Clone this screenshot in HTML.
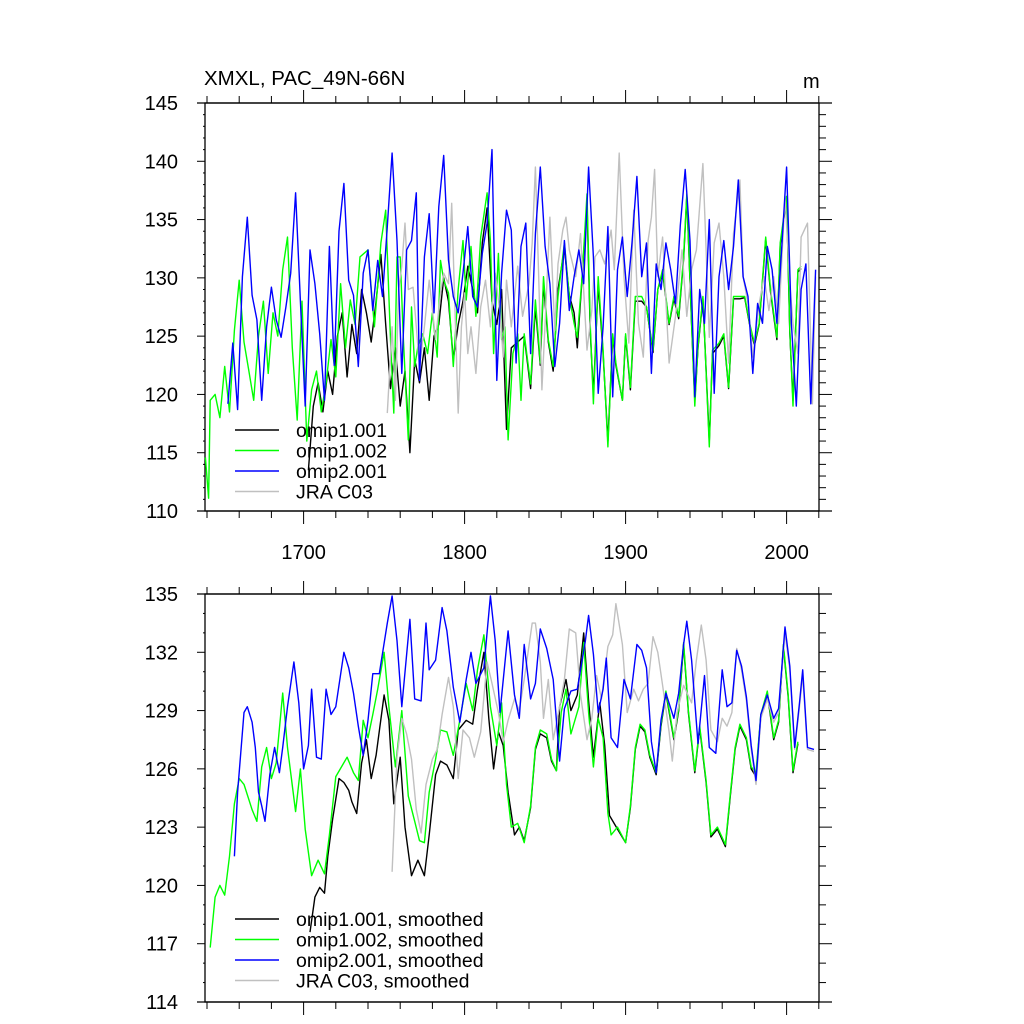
<!DOCTYPE html>
<html><head><meta charset="utf-8"><style>
html,body{margin:0;padding:0;background:#fff;}
svg{display:block;font-family:"Liberation Sans",sans-serif;}
</style></head><body>
<svg id="chart" width="1024" height="1024" viewBox="0 0 1024 1024" xmlns="http://www.w3.org/2000/svg">
<text x="204" y="85" font-size="20.5">XMXL, PAC_49N-66N</text>
<text x="803" y="88" font-size="20">m</text>
<g id="top-panel"></g>
<g id="bottom-panel"></g>
</svg>
<script>
// ---------- data: top panel (raw) ----------
const blueYears=[1653,1656,1659,1662,1665,1668,1671,1674,1677,1680,1683,1686,1689,1692,1695,1698,1701,1704,1707,1710,1713,1716,1719,1722,1725,1728,1731,1734,1737,1740,1743,1746,1749,1752,1755,1758,1761,1764,1767,1770,1772,1775,1778,1781,1784,1787,1790,1793,1796,1799,1802,1805,1808,1811,1814,1817,1820,1823,1826,1829,1832,1835,1838,1841,1844,1847,1850,1853,1856,1859,1862,1865,1868,1871,1874,1877,1880,1883,1886,1889,1892,1895,1898,1901,1904,1907,1910,1913,1916,1919,1922,1925,1928,1931,1934,1937,1940,1943,1946,1949,1952,1955,1958,1961,1964,1967,1970,1973,1976,1979,1982,1985,1988,1991,1994,1997,2000,2003,2006,2009,2012,2015,2018];
const blueVals=[119.2,124.4,118.7,130.1,135.2,128.5,126.4,119.5,125.8,129.2,126.4,124.9,127.5,130.4,137.3,128,119.0,132.4,129.5,125.2,119.5,132.7,122.5,134,138.1,129.8,128.5,122.4,130.4,132.4,127.2,131.5,128.4,134.4,140.7,133.2,121.8,132.4,133.2,137.3,121.2,131.8,135.5,127,136.1,140.5,131.5,128.4,127,130.4,134.4,128.4,127.5,132.1,134.7,141,121.2,130.4,135.8,134.1,122.7,132.7,134.7,123.5,133.8,139.5,132.7,129.5,122.4,126.1,133.2,127.2,130.1,132.4,129.5,139.5,131.8,120.1,125.8,134.4,119.8,130.7,133.5,128.4,133,138.7,130.1,133,121.8,131.2,129,133,130.7,127.8,134.5,139.3,133.2,119.8,129,126.1,135,120.1,130.1,133.2,129,132.7,138.4,130.1,128.4,121.8,127.8,126.1,132.7,130.7,126.1,132.7,139.5,126.1,119,129,131.2,119.2,130.7];
const greenYears=[1639,1641,1642,1645,1648,1651,1654,1657,1660,1663,1666,1669,1672,1675,1678,1681,1684,1687,1690,1693,1696,1699,1702,1705,1708,1711,1714,1717,1720,1723,1726,1729,1732,1735,1740,1744,1748,1751,1754,1756,1758,1760,1762,1765,1767,1769,1771,1774,1777,1780,1783,1785,1787,1790,1793,1796,1799,1801,1804,1807,1810,1814,1816,1818,1821,1823,1825,1827,1830,1833,1835,1837,1841,1844,1847,1849,1852,1855,1858,1862,1865,1868,1870,1873,1876,1878,1880,1883,1886,1889,1892,1894,1898,1900,1903,1906,1910,1913,1917,1920,1923,1927,1930,1933,1936,1938,1941,1943,1945,1948,1952,1954,1958,1961,1964,1967,1971,1974,1977,1980,1983,1987,1990,1994,1996,2000,2002,2004,2007,2009];
const greenVals=[114.6,111.1,119.5,120,118,122.4,118.5,125.5,129.8,124.5,122,119.5,125,128,121.8,127,125,130.7,133.5,124,117.8,128,116,120.4,122,118.5,121,124.7,121.5,129.5,124,128.1,126,131.8,132.4,125.8,133,135.8,124.7,118.4,131.8,131.8,124.7,116.1,127.5,122.4,124.1,125.2,123.5,127,123.2,131.5,129.8,128.7,122.4,129,133.2,128.1,132.7,126.7,133.5,137.3,133.2,123.5,132.1,124.7,125.8,116.1,123.5,125.2,119.5,125.2,120.9,128.1,122.7,130.1,124.7,122.4,128.4,133,128.4,126.1,124.9,130.1,137.2,126.1,119.2,130.1,123.8,115.5,125.2,122.7,119.5,125.2,120.6,128.4,128.4,127.5,123.8,129,130.7,126.1,128.4,126.7,131.8,137.2,126.1,119,124.1,128.4,115.5,123.8,124.4,125.2,120.6,128.4,128.4,128.4,126.1,124.4,126.1,133.5,129,124.9,133,137,125.5,119,130.7,131];
const blackYears=[1703,1706,1709,1712,1715,1718,1721,1724,1727,1730,1733,1736,1739,1742,1745,1748,1751,1754,1757,1760,1763,1766,1769,1772,1775,1778,1781,1784,1787,1790,1793,1796,1799,1802,1805,1808,1811,1814,1817,1820,1823,1826,1829,1833,1837,1841,1844,1847,1849,1852,1855,1858,1862,1865,1868,1870,1873,1876,1878,1880,1883,1886,1889,1892,1894,1898,1900,1903,1906,1910,1913,1917,1920,1923,1927,1930,1933,1936,1938,1941,1943,1945,1948,1952,1954,1958,1961,1964,1967,1971,1974,1977,1980,1983,1987,1990,1994,1996,2000,2002,2004,2007,2009];
const blackVals=[113.5,119,121,118.5,122,120,125,127,121.5,126,123.5,129,127,124.5,128,132,126,120.5,124,119,122,115,123,121,124,119.5,125,126,130,128,123,126,128,131,129,127,133,136,128,126,129,117,124,124.5,125,120.5,127.5,122.5,129.5,124.5,122,129,132.5,128.5,127,124,130,136.5,125.5,120,129.5,123.5,116,125,122.5,119.5,125,120.4,128,128,127.5,123.6,129,130.5,126,128.2,126.5,131.6,137,126,119.5,124,128.2,116,123.5,124.2,125,120.5,128.2,128.2,128.3,126,124.2,126,133.3,128.8,124.7,132.8,136.8,125.3,119.5,130.5,130.8];
const greyYears=[1752,1755,1757,1759,1761,1763,1765,1768,1770,1772,1775,1778,1782,1785,1787,1790,1792,1794,1796,1798,1800,1802,1804,1807,1810,1813,1816,1819,1822,1824,1826,1829,1831,1833,1836,1840,1842,1844,1846,1848,1850,1853,1856,1858,1861,1863,1865,1869,1872,1876,1879,1881,1884,1887,1891,1893,1896,1899,1902,1905,1908,1911,1914,1916,1918,1920,1923,1927,1931,1935,1938,1941,1944,1948,1950,1952,1955,1958,1961,1964,1967,1971,1973,1976,1979,1983,1986,1989,1992,1995,1999,2002,2004,2007,2009,2013,2016,2018];
const greyVals=[118.4,125.8,119.5,129,131,134.7,129,129.2,125.8,122.4,125.8,129.8,124.7,128.7,130.4,129.5,136.4,127.5,118.4,125.8,128.7,123.5,125.8,121.8,127.5,129.8,125.8,130.4,127,123.2,129.8,125.8,128.4,131,126.7,129.5,133,139.5,130.1,120.4,126.1,135.2,125.5,131.2,134.1,135.2,132.4,130.1,133.8,123.8,127.2,131.8,132.4,131.2,134.1,130.7,140.7,130.1,124.4,135.8,126.1,123.2,133.2,135.2,139.3,130.1,133.5,122.7,126.7,132.4,126.7,130.7,132.4,139.8,132.4,124.9,133,134.7,130.1,122.7,133.8,138.4,130.1,127.8,123.2,127.8,130.1,127.2,130.1,126.1,137,129.5,126.1,123.5,133.5,134.7,119.2,130.1];

// ---------- data: bottom panel (smoothed) ----------
const sGreenYears=[1642,1645,1648,1651,1654,1657,1660,1663,1668,1671,1674,1677,1680,1683,1687,1690,1695,1698,1701,1705,1709,1713,1716,1720,1727,1731,1734,1737,1740,1743,1746,1750,1753,1757,1761,1765,1769,1772,1775,1778,1782,1785,1789,1793,1797,1801,1805,1808,1812,1816,1820,1823,1826,1829,1833,1837,1841,1844,1847,1851,1854,1857,1860,1863,1866,1871,1874,1877,1880,1883,1886,1889,1891,1895,1900,1903,1906,1909,1912,1915,1919,1922,1925,1930,1933,1936,1939,1943,1946,1950,1953,1957,1962,1965,1968,1971,1975,1978,1981,1984,1988,1992,1995,1998,2001,2004,2007];
const sGreenVals=[116.8,119.4,120.0,119.5,121.5,124.2,125.5,125.2,123.9,123.3,126.1,127.1,125.5,126.3,129.9,127.1,123.8,126.0,122.9,120.5,121.3,120.6,122.6,125.6,126.6,125.8,125.4,128.5,127.6,128.8,130.1,132.0,129.2,126.1,129.0,124.6,123.3,122.3,122.2,124.8,126.5,128.0,127.9,126.7,128.5,130.4,129.0,131.1,132.9,129.2,127.2,129.4,125.2,123.0,123.2,122.2,124.1,127.1,128.0,127.8,126.5,125.9,128.9,130.1,127.8,129.2,132.5,128.9,126.1,128.6,127.6,123.7,122.6,123.0,122.2,124.1,127.1,128.3,128.0,126.7,125.8,128.3,130.0,127.6,129.1,132.5,129.0,125.9,128.2,125.4,122.6,123.0,122.1,124.7,127.1,128.3,127.6,126.1,125.8,128.8,130.0,127.6,128.5,132.4,129.8,125.9,127.4];
const sBlackYears=[1704,1707,1710,1713,1715,1718,1722,1725,1728,1730,1733,1736,1739,1742,1745,1750,1753,1756,1760,1763,1767,1771,1775,1778,1782,1785,1789,1793,1796,1801,1805,1808,1812,1815,1818,1821,1824,1827,1831,1834,1837,1841,1844,1847,1851,1854,1857,1859,1863,1866,1870,1874,1877,1880,1884,1887,1890,1895,1900,1903,1906,1909,1912,1915,1919,1922,1925,1930,1933,1936,1939,1943,1946,1950,1953,1957,1962,1965,1968,1971,1975,1978,1981,1984,1988,1992,1995,1998,2001,2004,2007];
const sBlackVals=[117.6,119.4,119.9,119.6,121.5,123.4,125.5,125.3,124.9,124.3,123.7,126.3,127.5,125.5,126.7,129.8,128.5,124.2,126.6,123.0,120.5,121.3,120.5,122.6,125.7,126.4,126.2,125.5,128.0,128.5,128.3,130.1,132.0,128.6,126.0,127.9,127.2,124.8,122.6,123.0,122.3,124.0,127.0,127.8,127.6,126.4,125.9,129.2,130.6,129.0,129.8,133.0,129.5,126.6,129.4,127.2,123.6,122.9,122.2,124.0,127.0,128.2,127.9,126.6,125.7,128.2,129.9,127.5,129.0,132.4,128.9,125.8,128.1,125.3,122.5,122.9,122.0,124.6,127.0,128.2,127.5,126.0,125.6,128.7,129.9,127.5,128.4,132.3,129.7,125.8,127.3];
const sBlueYears=[1657,1659,1663,1665,1668,1670,1672,1674,1676,1679,1682,1685,1687,1690,1694,1697,1700,1703,1705,1708,1711,1714,1717,1720,1725,1728,1731,1734,1737,1740,1743,1747,1752,1755,1758,1761,1766,1769,1773,1776,1778,1782,1786,1789,1793,1797,1801,1804,1807,1812,1816,1819,1822,1827,1831,1834,1837,1841,1844,1847,1851,1855,1859,1862,1866,1870,1875,1877,1880,1883,1886,1888,1891,1895,1899,1903,1907,1910,1913,1916,1919,1922,1925,1930,1933,1936,1938,1941,1945,1949,1952,1956,1960,1963,1966,1969,1972,1975,1978,1981,1984,1988,1992,1995,1999,2002,2005,2008,2010,2013,2017];
const sBlueVals=[121.5,124.8,128.9,129.2,128.4,127.1,124.8,124.1,123.3,125.7,127.1,125.8,127.1,129.2,131.5,129.4,126.0,127.2,130.1,126.6,126.5,130.1,128.8,129.2,132.0,131.2,129.9,128.2,126.7,128.5,130.9,130.9,133.5,134.9,132.6,129.2,133.7,129.6,129.5,133.5,131.1,131.6,134.3,133.1,130.2,128.4,130.6,132.0,130.4,131.2,134.9,132.6,128.9,133.1,129.8,128.6,132.4,129.6,130.4,133.2,132.2,130.6,126.4,129.1,130.0,130.1,132.6,133.9,131.9,128.9,130.1,131.7,127.6,127.1,130.6,129.6,132.4,132.1,131.2,127.4,125.8,128.5,129.9,128.6,129.9,132.4,133.6,131.6,127.3,130.8,127.1,126.8,131.1,129.2,129.4,132.1,131.3,129.7,127.2,125.4,128.8,129.8,128.6,129.1,133.3,131.3,127.1,129.4,131.1,127.1,127.0];
const sGreyYears=[1755,1758,1761,1764,1767,1770,1773,1776,1780,1783,1786,1790,1793,1796,1799,1803,1806,1810,1814,1817,1821,1824,1827,1831,1834,1837,1842,1844,1847,1849,1852,1855,1859,1862,1865,1869,1872,1876,1879,1882,1885,1889,1892,1894,1898,1901,1905,1908,1911,1914,1917,1920,1923,1927,1929,1932,1936,1941,1944,1947,1950,1953,1957,1960,1963,1966,1969,1972,1975,1978,1981,1984,1988,1992,1995,1999,2002,2005,2008,2010,2013,2017];
const sGreyVals=[120.7,126.6,128.6,127.8,126.5,123.9,122.7,125.2,126.5,127.0,128.8,130.7,129.2,125.5,128.0,127.6,126.6,127.9,131.5,130.4,128.9,127.4,128.5,129.6,129.0,130.6,133.5,133.5,131.5,128.6,130.6,127.5,129.2,130.6,133.2,133.0,129.8,127.5,128.6,130.8,129.6,132.3,132.9,134.5,132.4,128.9,130.1,129.5,130.1,130.4,132.8,132.0,130.3,127.9,126.4,128.9,130.3,129.4,131.6,133.4,131.6,128.0,127.4,128.6,128.2,128.9,132.2,131.1,129.5,127.0,125.2,128.6,129.6,128.4,128.9,133.0,131.1,127.0,129.2,130.8,127.0,126.9];

// ---------- ticks ----------
const topYTicks=[110,115,120,125,130,135,140,145];
const botYTicks=[114,117,120,123,126,129,132,135];
const xTickYears=[1700,1800,1900,2000];

// ---------- axes ----------
const X0=207, XPY=1.61;
function xS(yr){return X0+(yr-1640)*XPY;}
function yTop(v){return 103+(145-v)*(408/35);}
function yBot(v){return 594+(135-v)*(408/21);}
const NS='http://www.w3.org/2000/svg';
function mk(tag,attrs,parent){const e=document.createElementNS(NS,tag);for(const k in attrs)e.setAttribute(k,attrs[k]);parent.appendChild(e);return e;}

function drawFrame(g,t0,b0,yTicks,yMin,yMax,yFn,showX,prefix){
  const ax=mk('g',{},g);
  
  
  const fr=mk('rect',{x:205,y:t0,width:614,height:b0-t0,fill:'none',stroke:'#000','stroke-width':1.3},ax);
  
  
  mk('line',{x1:197,y1:t0,x2:832,y2:t0,stroke:'#000','stroke-width':1.3},ax);
  mk('line',{x1:197,y1:b0,x2:832,y2:b0,stroke:'#000','stroke-width':1.3},ax);
  for(let yr=1640;yr<=2020;yr+=20){
    const x=xS(yr), major=(yr%100===0), L=major?13:7;
    mk('line',{x1:x,y1:t0,x2:x,y2:t0-L,stroke:'#000','stroke-width':1},ax);
    mk('line',{x1:x,y1:b0,x2:x,y2:b0+L,stroke:'#000','stroke-width':1},ax);
  }
  const step=yTicks[1]-yTicks[0];
  for(let v=yMin;v<=yMax;v++){
    const y=yFn(v), major=((v-yMin)%step===0), L=major?13:7;
    mk('line',{x1:205,y1:y,x2:205-L+5,y2:y,stroke:'#000','stroke-width':1},ax);
    mk('line',{x1:819,y1:y,x2:819+L,y2:y,stroke:'#000','stroke-width':1},ax);
  }
  yTicks.forEach(v=>{
    const t=mk('text',{x:178,y:yFn(v)+7,'font-size':20,'text-anchor':'end'},ax);
    t.textContent=v;
    
    
  });
  if(showX){
    xTickYears.forEach(yr=>{
      const t=mk('text',{x:xS(yr),y:b0+48,'font-size':20,'text-anchor':'middle'},ax);
      t.textContent=yr;
      
      
    });
  }
}
function drawSeries(g,years,vals,yFn,color,name){
  const pts=years.map((yr,i)=>xS(yr).toFixed(1)+','+yFn(vals[i]).toFixed(1)).join(' ');
  const p=mk('polyline',{points:pts,fill:'none',stroke:color,'stroke-width':1.4,'stroke-linejoin':'round'},g);
  
  
}
function drawLegend(g,labels,colors,y0,prefix){
  labels.forEach((lab,i)=>{
    const y=y0+i*20.5;
    const e=mk('g',{},g);
    
    
    mk('line',{x1:235,y1:y,x2:279,y2:y,stroke:colors[i],'stroke-width':1.4},e);
    const t=mk('text',{x:296,y:y+7,'font-size':19.5},e);
    t.textContent=lab;
  });
}
const colors=['#000000','#00ff00','#0000ff','#c0c0c0'];
const topG=document.getElementById('top-panel');
drawFrame(topG,103,511,topYTicks,110,145,yTop,true,'top');
drawSeries(topG,blackYears,blackVals,yTop,colors[0],'omip1-001-line');
drawSeries(topG,greenYears,greenVals,yTop,colors[1],'omip1-002-line');
drawSeries(topG,greyYears,greyVals,yTop,colors[3],'jra-c03-line');
drawSeries(topG,blueYears,blueVals,yTop,colors[2],'omip2-001-line');
drawLegend(topG,['omip1.001','omip1.002','omip2.001','JRA C03'],colors,430,'top');
const botG=document.getElementById('bottom-panel');
drawFrame(botG,594,1002,botYTicks,114,135,yBot,false,'bottom');
drawSeries(botG,sBlackYears,sBlackVals,yBot,colors[0],'omip1-001-smoothed-line');
drawSeries(botG,sGreenYears,sGreenVals,yBot,colors[1],'omip1-002-smoothed-line');
drawSeries(botG,sGreyYears,sGreyVals,yBot,colors[3],'jra-c03-smoothed-line');
drawSeries(botG,sBlueYears,sBlueVals,yBot,colors[2],'omip2-001-smoothed-line');
drawLegend(botG,['omip1.001, smoothed','omip1.002, smoothed','omip2.001, smoothed','JRA C03, smoothed'],colors,919,'bottom');
</script>
</body></html>
